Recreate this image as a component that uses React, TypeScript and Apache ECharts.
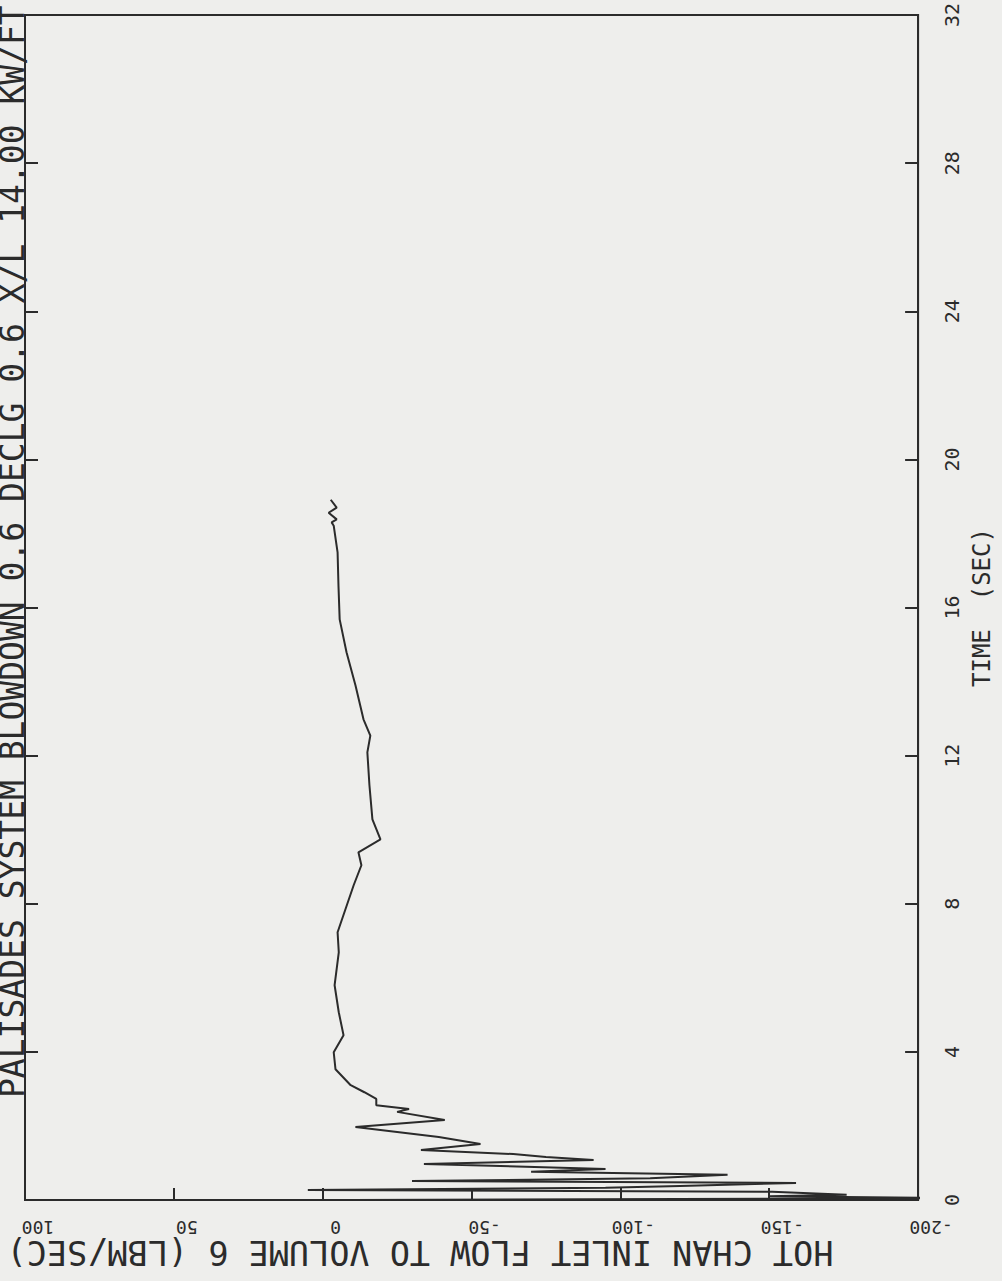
import React, { useEffect, useRef } from "react";
import * as echarts from "echarts";

// Time (sec) of each sampled point along the trace, increasing
const timeSec: number[] = [
  0.0, 0.05, 0.1, 0.14, 0.22, 0.27, 0.33, 0.38, 0.46, 0.51, 0.59, 0.68, 0.76, 0.84,
  0.97, 1.08, 1.16, 1.24, 1.35, 1.51, 1.62, 1.7, 1.97, 2.16, 2.38, 2.46,
  2.56, 2.73, 2.91, 3.1, 3.53, 3.99, 4.45, 5.07, 5.8, 6.69, 7.23, 8.5,
  9.04, 9.39, 9.74, 10.28, 11.2, 12.09, 12.54, 12.98, 13.9, 14.79, 15.68,
  16.59, 17.49, 18.21, 18.3, 18.38, 18.56, 18.7, 18.91,
];

// Hot channel inlet flow (lbm/sec) at the same points
const flowLbmSec: number[] = [
  -10, -212, -150, -176, -151, 5, -95, -120, -159, -30, -110, -136, -70, -95,
  -34, -91, -75, -64, -33, -53, -45, -39, -11, -41, -25, -29,
  -18, -18, -14, -9.4, -4.3, -3.7, -7, -5.4, -4, -5.4, -5, -10.4,
  -13, -12, -19.4, -16.7, -15.7, -15, -16, -13.7, -11, -8, -5.7,
  -5.3, -5, -3.7, -3, -4.7, -2, -4.7, -2.7,
];

const flowTicks = { min: -200, max: 100, interval: 50 };
const timeTicks = { min: 0, max: 32, interval: 4 };

const titleText = "PALISADES SYSTEM BLOWDOWN 0.6 DECLG 0.6 X/L 14.00 KW/FT";
const flowAxisName = "HOT CHAN INLET FLOW TO VOLUME 6 (LBM/SEC)";
const timeAxisName = "TIME  (SEC)";

const INK = "#2b2b2b";
const MONO = "DejaVu Sans Mono";

export default function App() {
  const ref = useRef<HTMLDivElement>(null);

  useEffect(() => {
    if (!ref.current) return;
    const chart = echarts.init(ref.current, undefined, { renderer: "svg" });
    const data = timeSec.map((t, i) => [flowLbmSec[i], t]);

    const lineStyle = { color: INK, width: 2 };

    chart.setOption({
      animation: false,
      backgroundColor: "#eeeeec",
      grid: {
        left: 25,
        right: 80,
        top: 11,
        bottom: 81,
        show: true,
        borderColor: INK,
        borderWidth: 2,
        backgroundColor: "transparent",
      },
      xAxis: [
        {
          type: "value",
          min: flowTicks.min,
          max: flowTicks.max,
          interval: flowTicks.interval,
          inverse: true,
          position: "bottom",
          axisLine: { show: true, onZero: false, lineStyle },
          axisTick: { show: true, inside: true, length: 12, lineStyle },
          axisLabel: {
            rotate: 180,
            fontSize: 18,
            fontFamily: MONO,
            color: INK,
            margin: 18,
            padding: [0, 26, 0, 0],
          },
          splitLine: { show: false },
        },
      ],
      yAxis: [
        {
          type: "value",
          min: timeTicks.min,
          max: timeTicks.max,
          interval: timeTicks.interval,
          position: "right",
          axisLine: { show: true, onZero: false, lineStyle },
          axisTick: { show: true, inside: true, length: 13, lineStyle },
          axisLabel: {
            rotate: 90,
            fontSize: 20,
            fontFamily: MONO,
            color: INK,
            margin: 24,
          },
          splitLine: { show: false },
          name: timeAxisName,
          nameLocation: "middle",
          nameRotate: 90,
          nameGap: 40,
          nameTextStyle: { fontSize: 24, fontFamily: MONO, color: INK },
        },
        {
          type: "value",
          min: timeTicks.min,
          max: timeTicks.max,
          interval: timeTicks.interval,
          position: "left",
          axisLine: { show: true, onZero: false, lineStyle },
          axisTick: { show: true, inside: true, length: 13, lineStyle },
          axisLabel: { show: false },
          splitLine: { show: false },
        },
      ],
      series: [
        {
          type: "line",
          xAxisIndex: 0,
          yAxisIndex: 0,
          data,
          symbol: "none",
          showSymbol: false,
          clip: true,
          lineStyle: { color: INK, width: 2 },
        },
      ],
      graphic: [
        {
          type: "text",
          x: 12,
          y: 1098,
          rotation: Math.PI / 2,
          style: {
            text: titleText,
            fontSize: 33,
            fontFamily: MONO,
            fill: INK,
            align: "left",
            verticalAlign: "middle",
            textAlign: "left",
            textVerticalAlign: "middle",
          },
        },
        {
          type: "text",
          x: 420,
          y: 1252,
          rotation: Math.PI,
          style: {
            text: flowAxisName,
            fontSize: 33.5,
            fontFamily: MONO,
            fill: INK,
            align: "center",
            verticalAlign: "middle",
            textAlign: "center",
            textVerticalAlign: "middle",
          },
        },
      ],
    });

    return () => chart.dispose();
  }, []);

  return (
    <div
      ref={ref}
      style={{ position: "absolute", left: 0, top: 0, width: 1002, height: 1281 }}
    />
  );
}
